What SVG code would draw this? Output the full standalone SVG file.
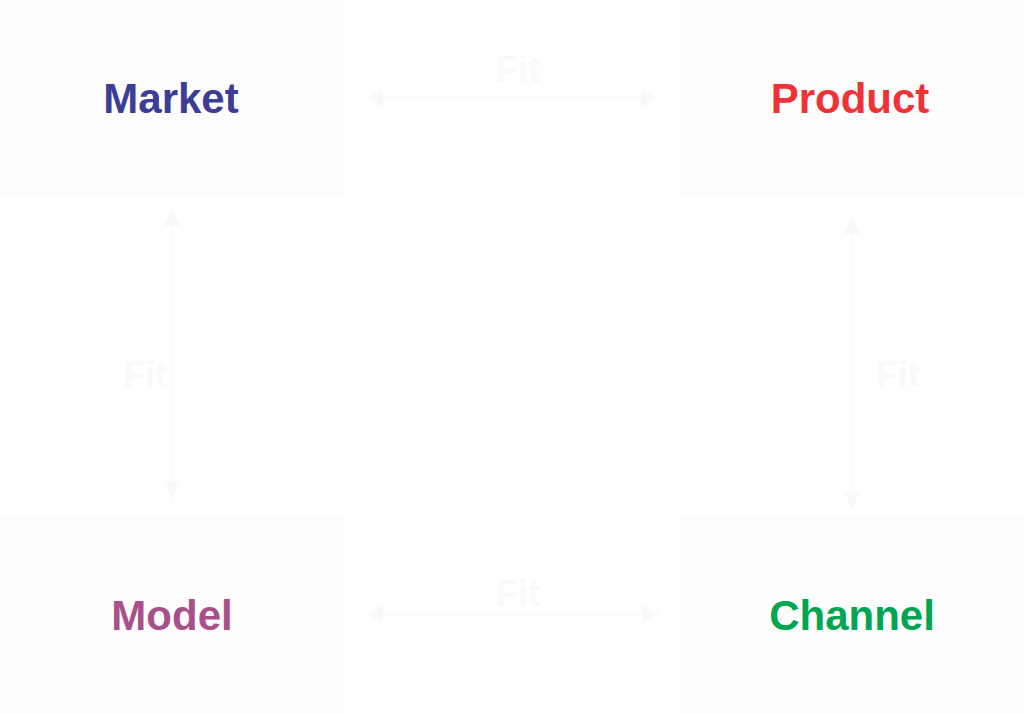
<svg xmlns="http://www.w3.org/2000/svg" width="1024" height="713" viewBox="0 0 1024 713">
<defs>
<marker id="ah" viewBox="0 0 10 10" refX="9" refY="5" markerWidth="20" markerHeight="18" markerUnits="userSpaceOnUse" orient="auto-start-reverse">
<path d="M0,0 L10,5 L0,10 Z" fill="#f9f9f9"/>
</marker>
</defs>
<style>
.box{fill:#fdfdfd;}
.lbl{font-family:"Liberation Sans",Arial,sans-serif;font-weight:bold;font-size:42px;text-anchor:middle;}
.fit{font-family:"Liberation Sans",Arial,sans-serif;font-weight:bold;font-size:36px;text-anchor:middle;fill:#f9f9f9;}
.con{stroke:#fafafa;stroke-width:1.5;fill:none;marker-start:url(#ah);marker-end:url(#ah);}
</style>
<rect width="1024" height="713" fill="#ffffff"/>
<g id="market"><rect class="box" x="0" y="0" width="344" height="196"/><text class="lbl" x="171" y="113" fill="#3d3d96">Market</text></g>
<g id="product"><rect class="box" x="679" y="0" width="345" height="196"/><text class="lbl" x="850" y="113" fill="#ee3338">Product</text></g>
<g id="model"><rect class="box" x="0" y="516" width="345" height="197"/><text class="lbl" x="172" y="630" fill="#a8508a">Model</text></g>
<g id="channel"><rect class="box" x="679" y="516" width="345" height="197"/><text class="lbl" x="852" y="630" fill="#00a651">Channel</text></g>
<g id="connectors">
<line class="con" x1="367" y1="98" x2="657" y2="98"/>
<text class="fit" x="518" y="82">Fit</text>
<line class="con" x1="367" y1="614" x2="658" y2="614"/>
<text class="fit" x="518" y="606">Fit</text>
<line class="con" x1="172" y1="210" x2="172" y2="498"/>
<text class="fit" x="145" y="387">Fit</text>
<line class="con" x1="852" y1="218" x2="852" y2="507"/>
<text class="fit" x="898" y="387">Fit</text>
</g>
</svg>
